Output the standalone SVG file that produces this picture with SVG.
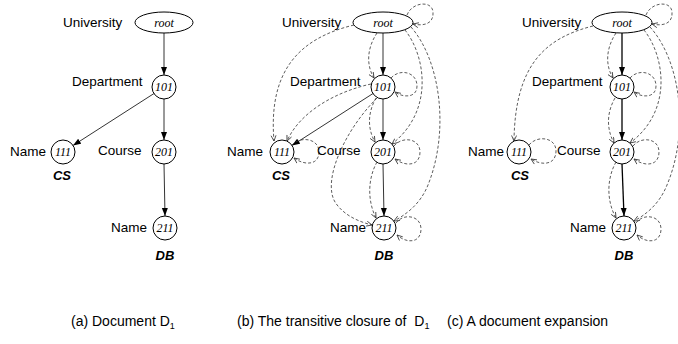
<svg xmlns="http://www.w3.org/2000/svg" width="678" height="344" viewBox="0 0 678 344">
<style>
.lbl{font-family:"Liberation Sans",Arial,sans-serif;font-size:13.5px;fill:#000}
.val{font-family:"Liberation Sans",Arial,sans-serif;font-size:13px;font-weight:bold;font-style:italic;fill:#000;text-anchor:middle}
.id{font-family:"Liberation Serif","Times New Roman",serif;font-size:12px;font-style:italic;fill:#000;text-anchor:middle}
.cap{font-family:"Liberation Sans",Arial,sans-serif;font-size:14px;fill:#000}
.nd{fill:#fff;stroke:#000;stroke-width:1}
.s{fill:none;stroke:#000;stroke-width:0.8;marker-end:url(#fa)}
.sb{fill:none;stroke:#000;stroke-width:1.3;marker-end:url(#fa)}
.d{fill:none;stroke:#333;stroke-width:0.8;stroke-dasharray:3,2;marker-end:url(#oa)}
</style>
<defs>
<marker id="fa" markerUnits="userSpaceOnUse" markerWidth="9" markerHeight="7" refX="8" refY="3" orient="auto">
<path d="M0,0 L8,3 L0,6 Z" fill="#000"/>
</marker>
<marker id="oa" markerUnits="userSpaceOnUse" markerWidth="8" markerHeight="7" refX="6" refY="3" orient="auto">
<path d="M0.5,0.5 L6,3 L0.5,5.5" fill="none" stroke="#333" stroke-width="0.8"/>
</marker>
</defs>

<g id="connectors">
<!-- panel a -->
<path class="s" d="M164,33 L164,75"/>
<path class="s" d="M154,93.5 L73,145.5"/>
<path class="s" d="M164,99 L164,140"/>
<path class="s" d="M164,164 L165,216"/>
<!-- panel b -->
<path class="s" d="M383,33 L383,75"/>
<path class="s" d="M373,93.5 L292,145.5"/>
<path class="s" d="M383,99 L383,140"/>
<path class="s" d="M383,164 L384,216"/>
<path class="d" d="M354,25 C300,38 268,70 274,141"/>
<path class="d" d="M371,84 C335,92 300,112 287,141"/>
<path class="d" d="M377,33 C367,48 366,65 374,78"/>
<path class="d" d="M407,15 C412,2 432,0 433,12 C434,25 422,26 413,24"/>
<path class="d" d="M391,78 C400,68 417,72 417,86 C417,98 403,98 395,92"/>
<path class="d" d="M292,145 C300,136 319,138 319,152 C319,165 305,166 294,158"/>
<path class="d" d="M394,146 C402,136 420,138 420,152 C420,166 406,167 395,159"/>
<path class="d" d="M396,223 C403,213 421,215 421,229 C421,243 407,244 397,235"/>
<path class="d" d="M376,98 C368,112 367,128 375,142"/>
<path class="d" d="M377,98 C345,130 322,180 335,202 C344,216 360,222 372,225"/>
<path class="d" d="M377,162 C368,178 367,200 376,218"/>
<path class="d" d="M405,30 C425,55 435,110 392,144"/>
<path class="d" d="M411,27 C440,60 450,130 428,185 C420,205 405,215 394,221"/>
<!-- panel c -->
<path class="sb" d="M622,33 L622,75"/>
<path class="sb" d="M622,99 L622,140"/>
<path class="sb" d="M622,164 L624,216"/>
<path class="d" d="M593,26 C545,38 515,65 514,141"/>
<path class="d" d="M616,33 C606,48 605,65 613,78"/>
<path class="d" d="M646,15 C651,2 671,0 672,12 C673,25 661,26 652,24"/>
<path class="d" d="M630,78 C639,68 656,72 656,86 C656,98 642,98 634,92"/>
<path class="d" d="M615,98 C607,112 606,128 614,143"/>
<path class="d" d="M644,30 C664,55 674,110 630,143"/>
<path class="d" d="M633,146 C641,136 659,138 659,152 C659,166 645,167 634,159"/>
<path class="d" d="M616,162 C607,178 606,200 616,218"/>
<path class="d" d="M650,27 C680,60 690,130 667,185 C659,205 645,215 634,221"/>
<path class="d" d="M529,145 C537,135 556,137 556,151 C556,165 542,166 531,159"/>
<path class="d" d="M636,223 C643,213 661,215 661,229 C661,243 647,244 637,235"/>
</g>

<!-- panel a nodes -->
<g id="a-root"><ellipse class="nd" cx="164" cy="22.5" rx="29" ry="10.5"/><text class="id" x="164" y="26.5">root</text><text class="lbl" x="63" y="26.5">University</text></g>
<g id="a-101"><circle class="nd" cx="164" cy="87" r="12"/><text class="id" x="164" y="91">101</text><text class="lbl" x="72" y="85.5">Department</text></g>
<g id="a-111"><circle class="nd" cx="63" cy="152" r="12"/><text class="id" x="63" y="156">111</text><text class="lbl" x="10" y="156">Name</text><text class="val" x="62" y="180">CS</text></g>
<g id="a-201"><circle class="nd" cx="164" cy="152" r="12"/><text class="id" x="164" y="156">201</text><text class="lbl" x="98" y="155">Course</text></g>
<g id="a-211"><circle class="nd" cx="165" cy="228" r="12"/><text class="id" x="165" y="232">211</text><text class="lbl" x="111" y="232">Name</text><text class="val" x="165" y="260">DB</text></g>

<!-- panel b nodes -->
<g id="b-root"><ellipse class="nd" cx="383" cy="22.5" rx="30" ry="10.5"/><text class="id" x="383" y="26.5">root</text><text class="lbl" x="282" y="26.5">University</text></g>
<g id="b-101"><circle class="nd" cx="383" cy="87" r="12"/><text class="id" x="383" y="91">101</text><text class="lbl" x="290" y="85.5">Department</text></g>
<g id="b-111"><circle class="nd" cx="282" cy="152" r="12"/><text class="id" x="282" y="156">111</text><text class="lbl" x="227" y="156">Name</text><text class="val" x="281" y="180">CS</text></g>
<g id="b-201"><circle class="nd" cx="383" cy="152" r="12"/><text class="id" x="383" y="156">201</text><text class="lbl" x="317" y="155">Course</text></g>
<g id="b-211"><circle class="nd" cx="384" cy="228" r="12"/><text class="id" x="384" y="232">211</text><text class="lbl" x="330" y="232">Name</text><text class="val" x="384" y="260">DB</text></g>

<!-- panel c nodes -->
<g id="c-root"><ellipse class="nd" cx="622" cy="22.5" rx="30" ry="10.5"/><text class="id" x="622" y="26.5">root</text><text class="lbl" x="522" y="26.5">University</text></g>
<g id="c-101"><circle class="nd" cx="622" cy="87" r="12"/><text class="id" x="622" y="91">101</text><text class="lbl" x="532" y="85.5">Department</text></g>
<g id="c-111"><circle class="nd" cx="519" cy="152" r="12"/><text class="id" x="519" y="156">111</text><text class="lbl" x="468" y="156">Name</text><text class="val" x="520" y="180">CS</text></g>
<g id="c-201"><circle class="nd" cx="622" cy="152" r="12"/><text class="id" x="622" y="156">201</text><text class="lbl" x="557" y="155">Course</text></g>
<g id="c-211"><circle class="nd" cx="624" cy="228" r="12"/><text class="id" x="624" y="232">211</text><text class="lbl" x="570" y="232">Name</text><text class="val" x="624" y="260">DB</text></g>

<g id="captions">
<text class="cap" x="71" y="326">(a) Document D<tspan font-size="9" dy="3">1</tspan></text>
<text class="cap" x="237" y="326">(b) The transitive closure of <tspan dx="4">D</tspan><tspan font-size="9" dy="3">1</tspan></text>
<text class="cap" x="447" y="326">(c) A document expansion</text>
</g>
</svg>
